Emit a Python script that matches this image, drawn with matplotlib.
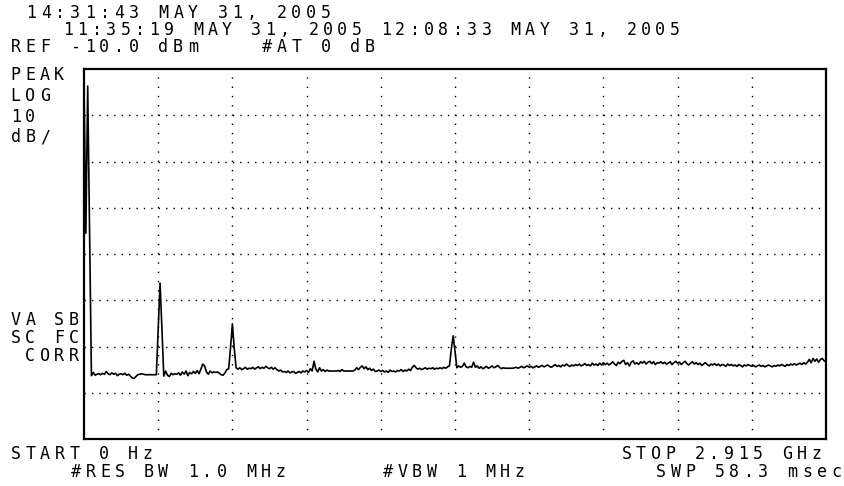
import matplotlib
matplotlib.use("Agg")
import matplotlib.pyplot as plt
import numpy as np

W, H = 844, 486

# sweep setup
start_mhz = 0.0
stop_mhz = 2915.0
ref_dbm = -10.0
db_per_div = 10.0
n_xdiv = 10
n_ydiv = 8

# trace, 401 points (dBm), 10 per row
level_dbm = [
    -13.5, -45.5, -13.7, -45.3, -76.3, -75.6, -76.2, -76.0, -75.9, -76.1,   # 0
    -75.8, -76.0, -75.4, -75.9, -76.1, -75.7, -76.0, -75.8, -76.3, -76.0,   # 10
    -75.9, -76.1, -75.8, -76.2, -76.0, -76.4, -76.8, -76.9, -76.5, -76.1,   # 20
    -76.0, -75.9, -76.0, -76.1, -76.1, -76.1, -76.1, -76.1, -76.1, -76.1,   # 30
    -66.2, -56.3, -66.0, -76.4, -75.3, -76.2, -76.5, -75.8, -76.1, -75.9,   # 40
    -76.0, -75.7, -76.2, -75.5, -76.0, -75.3, -76.3, -75.6, -75.9, -75.4,   # 50
    -75.8, -75.2, -75.9, -74.9, -73.8, -74.2, -75.5, -76.0, -75.3, -75.7,   # 60
    -75.5, -75.6, -75.5, -75.8, -76.1, -76.2, -75.7, -75.0, -74.8, -70.2,   # 70
    -65.1, -70.4, -74.6, -74.9, -74.6, -75.0, -74.8, -74.5, -74.9, -74.7,   # 80
    -74.8, -74.5, -74.9, -74.6, -74.4, -74.8, -74.5, -74.7, -74.3, -74.6,   # 90
    -74.8, -74.5, -74.9, -74.6, -75.0, -75.3, -75.1, -75.5, -75.4, -75.6,   # 100
    -75.3, -75.7, -75.5, -75.4, -75.8, -75.6, -75.4, -75.7, -75.3, -75.5,   # 110
    -75.2, -75.6, -74.8, -75.3, -73.2, -74.9, -75.5, -74.6, -75.3, -75.0,   # 120
    -75.4, -75.1, -75.3, -75.3, -75.3, -75.3, -75.3, -75.2, -75.4, -75.0,   # 130
    -75.3, -75.3, -75.3, -75.3, -75.3, -75.3, -75.1, -74.6, -75.0, -74.5,   # 140
    -74.2, -74.8, -74.4, -75.0, -74.7, -75.2, -74.9, -75.4, -75.3, -75.1,   # 150
    -75.4, -75.2, -75.5, -75.3, -75.6, -75.1, -75.4, -75.3, -75.5, -75.2,   # 160
    -75.3, -75.0, -75.4, -75.1, -75.3, -74.9, -75.2, -74.5, -74.1, -74.6,   # 170
    -74.9, -74.7, -75.0, -74.8, -74.6, -74.9, -74.7, -74.8, -74.6, -74.9,   # 180
    -74.7, -74.8, -74.6, -74.8, -74.5, -74.7, -74.4, -74.2, -70.6, -67.7,   # 190
    -71.0, -74.6, -74.2, -74.5, -74.3, -73.6, -74.4, -74.6, -74.3, -74.5,   # 200
    -73.4, -74.5, -74.2, -74.7, -74.4, -74.8, -74.6, -74.3, -74.7, -74.5,   # 210
    -74.2, -74.6, -74.4, -74.1, -74.5, -74.8, -74.6, -74.7, -74.7, -74.7,   # 220
    -74.7, -74.7, -74.6, -74.5, -74.7, -74.5, -74.3, -74.6, -74.4, -74.2,   # 230
    -74.5, -74.3, -74.6, -74.4, -74.2, -74.5, -74.3, -74.1, -74.4, -74.2,   # 240
    -74.0, -74.3, -74.5, -74.2, -73.9, -74.3, -74.1, -74.4, -74.0, -74.2,   # 250
    -73.8, -74.1, -74.3, -74.0, -74.2, -73.9, -74.1, -73.8, -74.2, -74.0,   # 260
    -73.7, -74.1, -73.9, -74.2, -73.6, -74.0, -73.8, -74.1, -73.6, -74.0,   # 270
    -73.5, -73.9, -73.6, -74.0, -73.7, -73.3, -73.8, -74.1, -73.4, -73.7,   # 280
    -73.2, -73.0, -73.9, -73.5, -74.2, -73.4, -73.1, -73.8, -73.5, -73.9,   # 290
    -73.3, -73.6, -73.2, -73.8, -73.4, -73.2, -73.7, -73.3, -73.9, -73.5,   # 300
    -73.6, -73.3, -73.7, -73.4, -73.8, -73.6, -73.3, -73.9, -73.5, -73.2,   # 310
    -73.6, -73.4, -73.9, -73.5, -73.2, -73.7, -74.0, -73.6, -73.3, -73.8,   # 320
    -73.5, -73.9, -73.6, -74.1, -73.8, -73.5, -73.9, -74.2, -73.8, -74.0,   # 330
    -73.7, -74.1, -73.8, -74.2, -73.9, -74.0, -74.3, -73.8, -74.1, -73.9,   # 340
    -74.2, -74.0, -74.3, -73.9, -74.1, -74.4, -74.0, -74.2, -73.9, -74.1,   # 350
    -74.3, -74.1, -74.4, -74.2, -74.0, -74.3, -74.1, -74.4, -74.2, -74.0,   # 360
    -74.2, -74.4, -74.1, -74.3, -74.0, -74.2, -73.9, -74.1, -74.3, -73.9,   # 370
    -74.1, -73.8, -74.0, -73.7, -74.0, -73.8, -73.6, -73.9, -73.5, -73.8,   # 380
    -73.4, -72.8, -73.5, -72.6, -73.2, -72.7, -73.4, -72.8, -72.6, -73.1,   # 390
    -73.3,                                                                  # 400
]

header_lines = [
    "14:31:43 MAY 31, 2005",
    "11:35:19 MAY 31, 2005 12:08:33 MAY 31, 2005",
    "REF -10.0 dBm    #AT 0 dB",
]
mode_lines = ["PEAK", "LOG", "10", "dB/"]
status_lines = ["VA SB", "SC FC", " CORR"]
start_label = "START 0 Hz"
stop_label = "STOP 2.915 GHz"
rbw_label = "#RES BW 1.0 MHz"
vbw_label = "#VBW 1 MHz"
swp_label = "SWP 58.3 msec"

plt.rcParams["lines.scale_dashes"] = False

freq_mhz = np.linspace(start_mhz, stop_mhz, len(level_dbm))
bottom_dbm = ref_dbm - n_ydiv * db_per_div

fig = plt.figure(figsize=(W / 100, H / 100), dpi=100)
fig.patch.set_facecolor("white")

ax = fig.add_axes([84 / W, 1 - 439 / H, 742 / W, 370 / H])
ax.set_xlim(start_mhz, stop_mhz)
ax.set_ylim(bottom_dbm, ref_dbm)
ax.set_xticks([])
ax.set_yticks([])
for sp in ax.spines.values():
    sp.set_linewidth(1.6)
    sp.set_color("black")

# dotted graticule
span = stop_mhz - start_mhz
for k in range(1, n_xdiv):
    ax.axvline(start_mhz + k * span / n_xdiv, color="black", lw=1.0,
               ls=(0, (1.0, 5.66)), zorder=1)
for k in range(1, n_ydiv):
    ax.axhline(bottom_dbm + k * db_per_div, color="black", lw=1.0,
               ls=(0, (1.0, 4.34)), zorder=1)

ax.plot(freq_mhz, level_dbm, color="black", lw=1.2, zorder=3)


def lcd_text(x0, y, s, pitch=14.6):
    # fixed-pitch screen lettering, one cell per character
    for k, ch in enumerate(s):
        if ch == " ":
            continue
        cx = x0 + (k + 0.5) * pitch
        fig.text(cx / W, 1 - y / H, ch, ha="center", va="center",
                 family="DejaVu Sans Mono", fontsize=12, color="black")


lcd_text(23.5, 13, header_lines[0], 14.75)
lcd_text(60.5, 30, header_lines[1], 14.45)
lcd_text(8.5, 47, header_lines[2], 14.75)

for s, y in zip(mode_lines, [75.5, 96, 117, 137]):
    lcd_text(8.5, y, s, 14.5)
for s, y in zip(status_lines, [320, 338, 356]):
    lcd_text(8.5, y, s, 14.5)

lcd_text(8.5, 454, start_label)
lcd_text(823.5 - len(stop_label) * 14.6, 454, stop_label)
lcd_text(68.5, 472, rbw_label)
lcd_text(380.5, 472, vbw_label)
lcd_text(843.5 - len(swp_label) * 14.6, 472, swp_label)

fig.savefig("out.png", dpi=100, facecolor="white")
